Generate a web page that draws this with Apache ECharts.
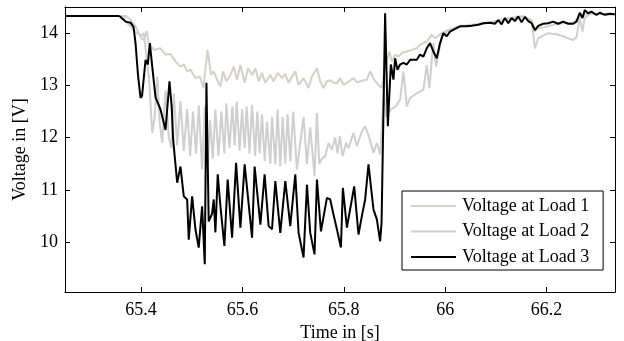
<!DOCTYPE html>
<html><head><meta charset="utf-8">
<script src="https://cdn.jsdelivr.net/npm/echarts@6/dist/echarts.min.js"></script>
<style>html,body{margin:0;padding:0;background:#fff}#c{width:624px;height:341px}</style>
</head><body><div id="c"></div>
<script>
const seriesNames = ['Voltage at Load 1', 'Voltage at Load 2', 'Voltage at Load 3'];
const xTicks = [65.4, 65.6, 65.8, 66, 66.2];
const yTicks = [10, 11, 12, 13, 14];

const load1 = [[65.25,14.33],[65.37,14.33],[65.3793,14.26],[65.3892,14.13],[65.3958,14.0],[65.4006,13.9],[65.4056,13.87],[65.411,14.04],[65.4155,13.81],[65.4253,13.68],[65.4384,13.71],[65.4483,13.59],[65.4581,13.6],[65.4679,13.46],[65.4778,13.36],[65.4843,13.4],[65.491,13.27],[65.4975,13.3],[65.5073,13.14],[65.5165,13.17],[65.523,12.95],[65.5312,13.68],[65.5383,13.2],[65.5434,13.27],[65.55,13.11],[65.5566,12.98],[65.5619,13.27],[65.5684,13.08],[65.5763,13.2],[65.5829,13.36],[65.5894,13.11],[65.596,13.39],[65.6044,13.05],[65.6111,13.33],[65.619,13.2],[65.6255,13.33],[65.632,13.08],[65.6386,13.24],[65.6451,13.05],[65.655,13.2],[65.6615,13.08],[65.6694,13.24],[65.678,13.14],[65.6845,13.22],[65.691,13.05],[65.7043,13.27],[65.7108,13.01],[65.7206,13.14],[65.7305,12.95],[65.7371,13.17],[65.747,13.33],[65.7535,13.08],[65.76,12.95],[65.7667,13.08],[65.7732,13.1],[65.7797,13.05],[65.7863,13.04],[65.7929,13.14],[65.7994,13.01],[65.8093,13.07],[65.8191,13.14],[65.8257,13.06],[65.8355,13.09],[65.8454,13.11],[65.852,13.27],[65.8598,13.11],[65.8684,13.01],[65.875,12.95],[65.8815,13.36],[65.89,13.65],[65.8947,13.46],[65.9012,13.59],[65.9078,13.55],[65.9144,13.62],[65.9243,13.65],[65.9341,13.68],[65.944,13.71],[65.9505,13.78],[65.9636,13.84],[65.9735,13.97],[65.9801,13.9],[65.9932,14.0],[66.0063,14.06],[66.0194,14.1],[66.0325,14.14],[66.0424,14.15],[66.0686,14.18],[66.0883,14.21],[66.108,14.24],[66.1277,14.29],[66.1539,14.33],[66.1705,14.25],[66.177,14.03],[66.1835,14.1],[66.1933,14.11],[66.2031,14.13],[66.213,14.16],[66.2327,14.19],[66.2524,14.2],[66.2623,14.29],[66.2689,14.35],[66.2853,14.37],[66.315,14.36],[66.3345,14.35]];

const load2 = [[65.25,14.33],[65.365,14.33],[65.3695,14.22],[65.3793,14.13],[65.3892,14.02],[65.4006,13.95],[65.4056,14.0],[65.4089,13.7],[65.4155,13.17],[65.4221,12.09],[65.427,12.4],[65.4319,13.17],[65.4368,12.3],[65.4417,11.9],[65.4483,12.9],[65.4548,12.0],[65.4597,11.8],[65.4646,12.85],[65.4712,11.85],[65.4778,12.7],[65.4843,11.75],[65.491,12.55],[65.4968,11.65],[65.5024,12.5],[65.5085,11.7],[65.5139,12.62],[65.5205,11.4],[65.5257,12.6],[65.5315,11.5],[65.5362,12.34],[65.5415,11.6],[65.5467,12.54],[65.5526,11.65],[65.5585,12.5],[65.5644,11.7],[65.5684,12.66],[65.5743,11.8],[65.5802,12.6],[65.5848,11.85],[65.5886,12.69],[65.5945,11.75],[65.5993,12.55],[65.6044,11.8],[65.6083,12.6],[65.614,11.7],[65.619,12.63],[65.6251,11.65],[65.6293,12.5],[65.634,11.7],[65.6386,12.45],[65.644,11.55],[65.6484,12.31],[65.655,11.5],[65.6584,12.4],[65.665,11.49],[65.6694,12.54],[65.6747,11.45],[65.6793,12.4],[65.6845,11.5],[65.6891,12.45],[65.6944,11.55],[65.7002,12.5],[65.7075,11.39],[65.7141,11.9],[65.7206,12.4],[65.7273,11.5],[65.7338,12.2],[65.7423,11.26],[65.747,12.47],[65.7515,11.5],[65.7568,11.6],[65.7634,11.65],[65.7699,11.9],[65.7765,11.77],[65.783,12.0],[65.7876,11.7],[65.7922,12.03],[65.7975,11.65],[65.8047,11.9],[65.8093,11.8],[65.8191,12.09],[65.8257,11.84],[65.8356,12.12],[65.8421,12.22],[65.8487,12.05],[65.8585,11.71],[65.8652,11.9],[65.8717,11.68],[65.875,12.2],[65.879,12.9],[65.8835,12.4],[65.8928,12.54],[65.9025,12.6],[65.9111,12.73],[65.9176,13.27],[65.9243,12.6],[65.9308,12.76],[65.944,12.85],[65.957,12.92],[65.9636,13.39],[65.9688,12.95],[65.9735,13.49],[65.9767,13.81],[65.982,13.36],[65.9866,13.6],[65.9932,13.94],[65.9998,14.0],[66.0096,14.06],[66.0227,14.12],[66.0424,14.14],[66.0686,14.17],[66.0883,14.2],[66.108,14.25],[66.1277,14.28],[66.1539,14.31],[66.1705,14.24],[66.177,13.71],[66.1835,13.9],[66.1901,13.94],[66.2031,14.0],[66.2196,13.98],[66.2327,13.94],[66.2425,13.9],[66.2524,13.87],[66.2589,13.92],[66.2656,14.3],[66.2709,14.03],[66.2754,14.3],[66.2853,14.36],[66.315,14.37],[66.3345,14.36]];

const load3 = [[65.25,14.33],[65.355,14.33],[65.3596,14.31],[65.3695,14.22],[65.3793,14.2],[65.3852,14.12],[65.3892,13.8],[65.394,13.2],[65.399,12.76],[65.402,12.8],[65.4089,13.49],[65.4134,13.4],[65.4173,13.81],[65.4221,13.36],[65.4286,12.77],[65.4384,12.54],[65.4483,12.15],[65.4561,13.08],[65.4604,12.6],[65.4634,11.96],[65.4713,11.14],[65.4778,11.45],[65.4843,10.88],[65.491,10.82],[65.4941,10.05],[65.5008,10.88],[65.5073,10.25],[65.5138,9.9],[65.5205,10.69],[65.5257,9.58],[65.529,13.05],[65.5335,10.4],[65.5402,10.55],[65.5434,10.82],[65.5467,10.19],[65.5513,11.3],[65.5566,10.69],[65.5644,9.93],[65.5709,11.2],[65.5796,10.09],[65.5875,11.52],[65.596,10.28],[65.6044,11.49],[65.619,10.09],[65.6241,11.45],[65.6354,10.34],[65.6438,11.3],[65.6517,10.31],[65.6584,10.25],[65.6649,11.17],[65.6747,10.18],[65.6846,11.17],[65.6944,10.31],[65.7043,11.3],[65.7108,10.18],[65.7206,9.71],[65.7273,11.1],[65.7338,10.18],[65.7423,9.77],[65.747,11.2],[65.7549,10.21],[65.7667,10.85],[65.7732,10.82],[65.7797,10.53],[65.7864,10.25],[65.7943,9.9],[65.7982,11.04],[65.8061,10.28],[65.8205,11.07],[65.829,10.15],[65.8356,10.5],[65.8421,10.82],[65.8487,11.49],[65.8585,10.63],[65.8652,10.44],[65.8717,10.02],[65.8745,10.38],[65.8815,14.38],[65.8869,12.22],[65.8928,13.4],[65.8979,13.11],[65.9012,13.52],[65.9058,13.3],[65.9111,13.4],[65.9176,13.43],[65.9243,13.4],[65.9308,13.49],[65.944,13.49],[65.9505,13.59],[65.957,13.55],[65.9636,13.71],[65.9701,13.81],[65.9767,13.65],[65.9834,13.52],[65.9899,13.81],[65.9964,14.0],[66.0031,13.94],[66.0096,14.03],[66.0194,14.08],[66.0292,14.13],[66.0424,14.13],[66.0523,14.14],[66.0653,14.16],[66.0751,14.19],[66.0883,14.2],[66.0981,14.18],[66.1047,14.25],[66.1113,14.17],[66.1179,14.29],[66.1245,14.19],[66.1311,14.29],[66.1376,14.23],[66.1441,14.32],[66.1507,14.21],[66.1573,14.31],[66.1639,14.23],[66.1705,14.19],[66.177,14.06],[66.1835,14.14],[66.1933,14.18],[66.2031,14.19],[66.213,14.22],[66.2228,14.18],[66.2327,14.22],[66.2425,14.18],[66.2524,14.18],[66.259,14.22],[66.2656,14.39],[66.2709,14.29],[66.2754,14.44],[66.2819,14.38],[66.2885,14.41],[66.2985,14.35],[66.305,14.39],[66.315,14.35],[66.3247,14.37],[66.3345,14.36]];

const colors = ['#d5d0c8', '#cfcfcf', '#000000'];
const FONT = 'Liberation Serif';
const FS = 18;
const chart = echarts.init(document.getElementById('c'), null, {renderer: 'canvas'});
const axLine = {show: true, lineStyle: {color: '#000', width: 1}};
function xAx(pos, labels) {
  return {
    type: 'value', position: pos, min: 65.25, max: 66.335,
    axisLine: axLine, splitLine: {show: false},
    axisTick: {show: true, inside: true, length: 5, customValues: xTicks, lineStyle: {color: '#000'}},
    axisLabel: {show: labels, customValues: xTicks, margin: 9, color: '#000', fontFamily: FONT, fontSize: FS},
    name: labels ? 'Time in [s]' : '', nameLocation: 'middle', nameGap: 23,
    nameTextStyle: {color: '#000', fontFamily: FONT, fontSize: FS}
  };
}
function yAx(pos, labels) {
  return {
    type: 'value', position: pos, min: 9.05, max: 14.5,
    axisLine: axLine, splitLine: {show: false},
    axisTick: {show: true, inside: true, length: 5, customValues: yTicks, lineStyle: {color: '#000'}},
    axisLabel: {show: labels, customValues: yTicks, margin: 7, color: '#000', fontFamily: FONT, fontSize: FS},
    name: labels ? 'Voltage in [V]' : '', nameLocation: 'middle', nameGap: 27,
    nameTextStyle: {color: '#000', fontFamily: FONT, fontSize: FS}
  };
}
const data = [load1, load2, load3];
chart.setOption({
  animation: false,
  backgroundColor: '#fff',
  grid: {left: 65, right: 9, top: 7, bottom: 49, containLabel: false, outerBoundsMode: 'none'},
  xAxis: [xAx('bottom', true), xAx('top', false)],
  yAxis: [yAx('left', true), yAx('right', false)],
  legend: {
    orient: 'vertical', left: 402, top: 191,
    backgroundColor: '#fff', borderColor: '#000', borderWidth: 1, borderRadius: 0,
    padding: [5, 14, 3, 9], itemGap: 5.5, itemWidth: 45, itemHeight: 2, icon: 'rect',
    textStyle: {color: '#000', fontFamily: FONT, fontSize: FS, lineHeight: 20, padding: [0, 0, 0, 1]},
    data: seriesNames
  },
  series: seriesNames.map((n, i) => ({
    name: n, type: 'line', data: data[i], showSymbol: false, symbol: 'none',
    xAxisIndex: 0, yAxisIndex: 0, z: 2 + i,
    lineStyle: {color: colors[i], width: 2},
    itemStyle: {color: colors[i]}
  }))
});
</script></body></html>
